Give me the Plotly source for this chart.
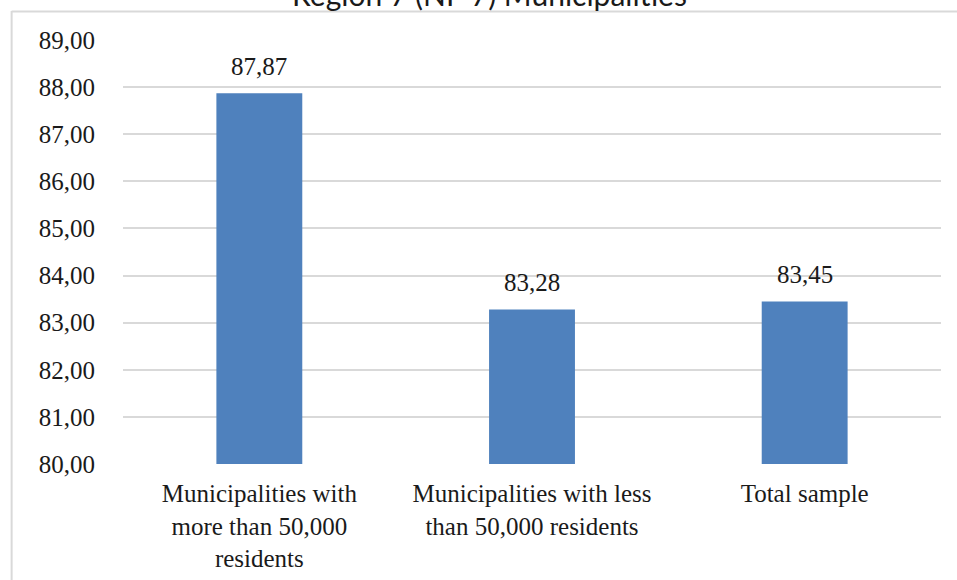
import plotly.graph_objects as go

categories = [
    "Municipalities with<br>more than 50,000<br>residents",
    "Municipalities with less<br>than 50,000 residents",
    "Total sample",
]
values = [87.87, 83.28, 83.45]
tick_values = [80, 81, 82, 83, 84, 85, 86, 87, 88, 89]
title_text = "Region 7 (NP 7) Municipalities"

serif = "Liberation Serif"
grid = "#D9D9D9"
ink = "#1a1a1a"

fig = go.Figure(
    go.Bar(
        x=categories,
        y=values,
        width=0.315,
        marker=dict(color="#4F81BD", line=dict(width=0)),
        hoverinfo="skip",
    )
)

# value labels above each bar
for cat, val in zip(categories, values):
    fig.add_annotation(
        x=cat, y=val, xref="x", yref="y",
        text=f"{val:.2f}".replace(".", ","),
        showarrow=False, yanchor="bottom", yshift=11,
        font=dict(family=serif, size=25, color=ink),
    )

W, H = 957, 580
ml, mr, mt, mb = 122.5, 15.5, 40, 116
pw, ph = W - ml - mr, H - mt - mb

def px_x(x):
    return (x - ml) / pw

def px_y(y):
    return 1 - (y - mt) / ph

# chart frame (left and top border)
fig.add_shape(type="line", xref="paper", yref="paper",
              x0=px_x(11), x1=px_x(11), y0=px_y(11), y1=px_y(600),
              line=dict(color=grid, width=2))
fig.add_shape(type="line", xref="paper", yref="paper",
              x0=px_x(11), x1=px_x(960), y0=px_y(11.5), y1=px_y(11.5),
              line=dict(color=grid, width=2))

# title, sitting above the frame
fig.add_annotation(
    xref="paper", yref="paper", x=px_x(489), y=px_y(14),
    text=title_text, showarrow=False, xanchor="center", yanchor="bottom",
    font=dict(family="Lato", size=30, color=ink),
)

fig.update_layout(
    width=W, height=H,
    margin=dict(l=ml, r=mr, t=mt, b=mb, pad=0, autoexpand=False),
    paper_bgcolor="white", plot_bgcolor="white",
    separators=", ",
    showlegend=False,
    bargap=0.685,
    xaxis=dict(
        showgrid=False, showline=False, ticks="",
        tickfont=dict(family=serif, size=25, color=ink),
        ticklabelstandoff=12, automargin=False,
    ),
    yaxis=dict(
        range=[80, 89], tickvals=tick_values, tickformat=".2f",
        showgrid=True, gridcolor=grid, gridwidth=2,
        zeroline=False, showline=False, ticks="",
        tickfont=dict(family=serif, size=25, color=ink),
        ticklabelstandoff=27, automargin=False,
    ),
)

fig.write_html("out.html")
